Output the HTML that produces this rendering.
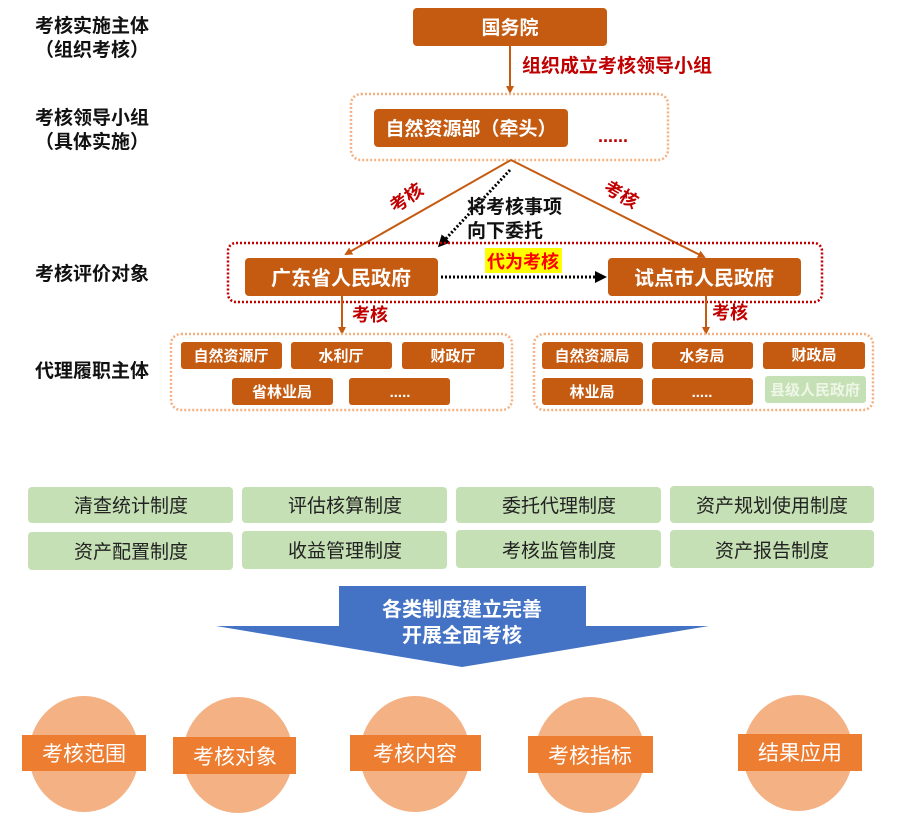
<!DOCTYPE html>
<html><head><meta charset="utf-8"><style>
html,body{margin:0;padding:0;background:#fff;}
svg{display:block;font-family:"Liberation Sans","Noto Sans CJK SC",sans-serif;}
.b{font-weight:bold;}
</style></head><body>
<svg width="916" height="813" viewBox="0 0 916 813" xmlns="http://www.w3.org/2000/svg">
<defs>
<marker id="oa" markerWidth="8" markerHeight="8" refX="6" refY="4" orient="auto" markerUnits="userSpaceOnUse"><path d="M0,0 L8,4 L0,8 z" fill="#c55a11"/></marker>
<marker id="ka" markerWidth="12" markerHeight="12" refX="9" refY="6" orient="auto" markerUnits="userSpaceOnUse"><path d="M0,0 L12,6 L0,12 z" fill="#000"/></marker>
</defs>
<g class="b" font-size="19" fill="#111" text-anchor="middle">
<text x="92" y="32">考核实施主体</text>
<text x="92" y="56">（组织考核）</text>
<text x="92" y="124">考核领导小组</text>
<text x="92" y="148">（具体实施）</text>
<text x="92" y="280">考核评价对象</text>
<text x="92" y="377">代理履职主体</text>
</g>
<rect x="413" y="8" width="194" height="38" rx="4" fill="#c55a11"/>
<text x="510" y="34" class="b" font-size="19" fill="#fff" text-anchor="middle">国务院</text>
<line x1="510" y1="46" x2="510" y2="92" stroke="#c55a11" stroke-width="2" marker-end="url(#oa)"/>
<text x="522" y="72" class="b" font-size="19" fill="#c00000">组织成立考核领导小组</text>
<rect x="351" y="94" width="317" height="66" rx="10" fill="none" stroke="#f4b183" stroke-width="2.5" stroke-dasharray="2 2"/>
<rect x="374" y="109" width="194" height="38" rx="4" fill="#c55a11"/>
<text x="471" y="135" class="b" font-size="19" fill="#fff" text-anchor="middle">自然资源部（牵头）</text>
<text x="598" y="142" class="b" font-size="18" fill="#c00000">......</text>
<line x1="511" y1="160" x2="346" y2="254" stroke="#c55a11" stroke-width="2" marker-end="url(#oa)"/>
<line x1="511" y1="160" x2="704" y2="257" stroke="#c55a11" stroke-width="2" marker-end="url(#oa)"/>
<line x1="510" y1="170" x2="440" y2="245" stroke="#000" stroke-width="3" stroke-dasharray="2 2" marker-end="url(#ka)"/>
<text transform="translate(410,203) rotate(-35)" class="b" font-size="18" fill="#c00000" text-anchor="middle">考核</text>
<text transform="translate(618,200) rotate(30)" class="b" font-size="18" fill="#c00000" text-anchor="middle">考核</text>
<text x="467" y="213" class="b" font-size="19" fill="#111">将考核事项</text>
<text x="467" y="237" class="b" font-size="19" fill="#111">向下委托</text>
<rect x="228" y="243" width="594" height="59" rx="8" fill="none" stroke="#c00000" stroke-width="2.5" stroke-dasharray="2 2"/>
<rect x="245" y="258" width="193" height="38" rx="4" fill="#c55a11"/>
<text x="341" y="285" class="b" font-size="20" fill="#fff" text-anchor="middle">广东省人民政府</text>
<rect x="608" y="258" width="193" height="38" rx="4" fill="#c55a11"/>
<text x="704" y="285" class="b" font-size="20" fill="#fff" text-anchor="middle">试点市人民政府</text>
<rect x="485" y="248" width="77" height="25" fill="#ffff00"/>
<text x="523" y="268" class="b" font-size="18" fill="#ff0000" text-anchor="middle">代为考核</text>
<line x1="441" y1="277" x2="604" y2="277" stroke="#000" stroke-width="3" stroke-dasharray="2 2" marker-end="url(#ka)"/>
<line x1="342" y1="296" x2="342" y2="333" stroke="#c55a11" stroke-width="2" marker-end="url(#oa)"/>
<line x1="706" y1="296" x2="706" y2="333" stroke="#c55a11" stroke-width="2" marker-end="url(#oa)"/>
<text x="352" y="321" class="b" font-size="18" fill="#c00000">考核</text>
<text x="712" y="319" class="b" font-size="18" fill="#c00000">考核</text>
<rect x="171" y="334" width="341" height="76" rx="10" fill="none" stroke="#f4b183" stroke-width="2.5" stroke-dasharray="2 2"/>
<rect x="534" y="334" width="339" height="76" rx="10" fill="none" stroke="#f4b183" stroke-width="2.5" stroke-dasharray="2 2"/>
<g fill="#c55a11">
<rect x="181" y="342" width="101" height="27" rx="3"/>
<rect x="291" y="342" width="101" height="27" rx="3"/>
<rect x="402" y="342" width="102" height="27" rx="3"/>
<rect x="232" y="378" width="101" height="27" rx="3"/>
<rect x="349" y="378" width="101" height="27" rx="3"/>
<rect x="542" y="342" width="101" height="27" rx="3"/>
<rect x="652" y="342" width="101" height="27" rx="3"/>
<rect x="763" y="342" width="102" height="27" rx="3"/>
<rect x="542" y="378" width="101" height="27" rx="3"/>
<rect x="652" y="378" width="101" height="27" rx="3"/>
</g>
<rect x="765" y="376" width="101" height="27" rx="3" fill="#c5e0b4"/>
<g class="b" font-size="15" fill="#fff" text-anchor="middle">
<text x="231" y="361">自然资源厅</text>
<text x="341" y="361">水利厅</text>
<text x="453" y="361">财政厅</text>
<text x="282" y="397">省林业局</text>
<text x="400" y="397">.....</text>
<text x="592" y="361">自然资源局</text>
<text x="702" y="361">水务局</text>
<text x="814" y="360">财政局</text>
<text x="592" y="397">林业局</text>
<text x="702" y="397">.....</text>
<text x="815" y="395" fill="#eef6e8">县级人民政府</text>
</g>
<g fill="#c5e0b4">
<rect x="28" y="487" width="205" height="36" rx="4"/>
<rect x="242" y="487" width="205" height="36" rx="4"/>
<rect x="456" y="487" width="205" height="36" rx="4"/>
<rect x="670" y="486" width="204" height="37" rx="4"/>
<rect x="28" y="532" width="205" height="38" rx="4"/>
<rect x="242" y="531" width="205" height="38" rx="4"/>
<rect x="456" y="530" width="205" height="38" rx="4"/>
<rect x="670" y="530" width="204" height="38" rx="4"/>
</g>
<g font-size="19" fill="#222" text-anchor="middle">
<text x="131" y="512">清查统计制度</text>
<text x="345" y="512">评估核算制度</text>
<text x="559" y="512">委托代理制度</text>
<text x="772" y="512">资产规划使用制度</text>
<text x="131" y="558">资产配置制度</text>
<text x="345" y="557">收益管理制度</text>
<text x="559" y="557">考核监管制度</text>
<text x="772" y="557">资产报告制度</text>
</g>
<path d="M339,586 L586,586 L586,626 L709,626 L462,667 L216,626 L339,626 Z" fill="#4472c4"/>
<text x="462" y="616" class="b" font-size="20" fill="#fff" text-anchor="middle">各类制度建立完善</text>
<text x="462" y="642" class="b" font-size="20" fill="#fff" text-anchor="middle">开展全面考核</text>
<g fill="#f4b183">
<ellipse cx="84" cy="754" rx="55" ry="58"/>
<ellipse cx="238" cy="755" rx="55" ry="58"/>
<ellipse cx="415" cy="754" rx="55" ry="58"/>
<ellipse cx="590" cy="755" rx="55" ry="58"/>
<ellipse cx="798" cy="753" rx="55" ry="58"/>
</g>
<g fill="#ed7d31">
<rect x="22" y="735" width="124" height="36"/>
<rect x="173" y="737" width="123" height="37"/>
<rect x="350" y="735" width="131" height="36"/>
<rect x="528" y="736" width="125" height="37"/>
<rect x="738" y="734" width="124" height="37"/>
</g>
<g font-size="21" fill="#fff" text-anchor="middle">
<text x="84" y="761">考核范围</text>
<text x="235" y="764">考核对象</text>
<text x="415" y="761">考核内容</text>
<text x="590" y="763">考核指标</text>
<text x="800" y="760">结果应用</text>
</g>
</svg>
</body></html>
